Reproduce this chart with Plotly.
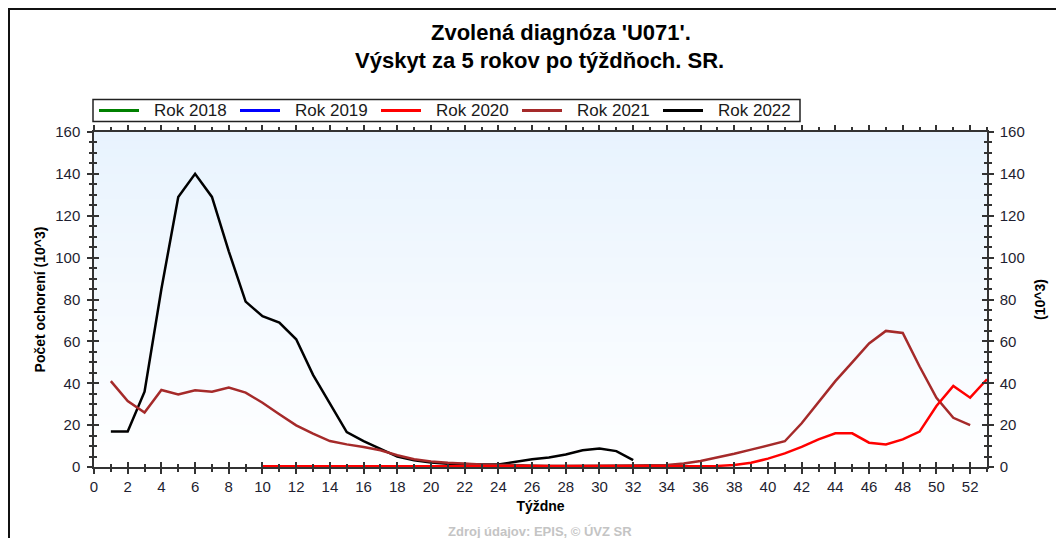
import plotly.graph_objects as go

# ---------------- data ----------------
weeks_2020 = list(range(10, 54))
rok_2020 = [0.3] * 27 + [0.5, 1.0, 2.0, 4.0, 6.5, 9.6, 13.2, 16.1, 16.1, 11.6, 10.8, 13.2, 16.9, 29.1, 38.7, 33.1, 41.9]

weeks_2021 = list(range(1, 53))
rok_2021 = [41, 31.5, 26, 36.8, 34.7, 36.6, 36, 37.9, 35.5, 30.7,
            25.2, 19.9, 15.9, 12.4, 10.8, 9.6, 8, 5.6, 3.7, 2.6,
            2, 1.5, 1.2, 1.0, 0.8, 0.7, 0.6, 0.6, 0.6, 0.6,
            0.6, 0.7, 0.8, 1.0, 1.7, 2.9, 4.5, 6.3, 8.3, 10.3,
            12.3, 20.9, 31, 41, 50, 59, 65, 64, 48, 33,
            23.5, 20]

weeks_2022 = list(range(1, 33))
rok_2022 = [17, 17, 36, 85, 129, 140, 129, 103, 79, 72,
            69, 61, 44, 30, 16.7, 12.4, 8.5, 5, 3.2, 2.1,
            1.5, 1.2, 1.2, 1.2, 2.4, 3.7, 4.5, 6, 8, 8.8,
            7.6, 3.3]

series_names = ["Rok 2018", "Rok 2019", "Rok 2020", "Rok 2021", "Rok 2022"]
series_colors = ["#008000", "#0000FF", "#FF0000", "#A52A2A", "#000000"]

x_ticks = list(range(0, 53, 2))
y_ticks = list(range(0, 161, 20))

FONT = "Arial, Liberation Sans, sans-serif"
TXT = "#1e1e30"
AX = "#333333"

# page body has an 8px margin: figure is placed at (8, 8)
OFF = 8
W, H = 1064 - OFF, 538 - OFF
PL, PR, PT, PB = 94, 987, 132, 467   # plot area in window pixels

fig = go.Figure()

# drawing order: 2022 below, 2021, 2020 on top
fig.add_trace(go.Scatter(x=weeks_2022, y=rok_2022, mode="lines", name=series_names[4],
                         line=dict(color=series_colors[4], width=2.5), showlegend=False))
fig.add_trace(go.Scatter(x=weeks_2021, y=rok_2021, mode="lines", name=series_names[3],
                         line=dict(color=series_colors[3], width=2.5), showlegend=False))
fig.add_trace(go.Scatter(x=weeks_2020, y=rok_2020, mode="lines", name=series_names[2],
                         line=dict(color=series_colors[2], width=2.5), showlegend=False))
fig.add_trace(go.Scatter(x=[None], y=[None], mode="lines", name=series_names[1],
                         line=dict(color=series_colors[1], width=2.5), showlegend=False))
fig.add_trace(go.Scatter(x=[None], y=[None], mode="lines", name=series_names[0],
                         line=dict(color=series_colors[0], width=2.5), showlegend=False))

# dummy traces for the overlay axes (inside ticks -> crossing ticks)
for xa, ya in [("x2", "y"), ("x", "y2"), ("x", "y3"), ("x", "y4")]:
    fig.add_trace(go.Scatter(x=[None], y=[None], xaxis=xa, yaxis=ya,
                             showlegend=False, hoverinfo="skip"))

tick_common = dict(tickcolor=AX, tickwidth=1.5)

fig.update_layout(
    width=W, height=H, autosize=False,
    margin=dict(l=PL - OFF, r=W - (PR - OFF), t=PT - OFF, b=H - (PB - OFF), pad=0),
    paper_bgcolor="white", plot_bgcolor="white",
    font=dict(family=FONT, color=TXT),
    showlegend=False,
    xaxis=dict(range=[0, 53], tickvals=x_ticks, ticks="outside", ticklen=5,
               minor=dict(dtick=1, tick0=0, ticks="outside", ticklen=3, **tick_common),
               showline=True, linecolor=AX, linewidth=1.5, mirror="ticks",
               showgrid=False, zeroline=False,
               tickfont=dict(size=15, color=TXT),
               title=dict(text="<b>Týždne</b>", font=dict(size=14, color="#000000"), standoff=7),
               **tick_common),
    xaxis2=dict(range=[0, 53], overlaying="x", anchor="y", tickvals=x_ticks,
                ticks="inside", ticklen=5, showticklabels=False,
                minor=dict(dtick=1, tick0=0, ticks="inside", ticklen=3, **tick_common),
                showline=False, showgrid=False, zeroline=False, **tick_common),
    yaxis=dict(range=[0, 160], tickvals=y_ticks, ticks="outside", ticklen=5,
               minor=dict(dtick=5, tick0=0, ticks="outside", ticklen=3, **tick_common),
               showline=True, linecolor=AX, linewidth=1.5,
               showgrid=False, zeroline=False,
               tickfont=dict(size=15, color=TXT), ticklabelstandoff=4,
               title=dict(text="<b>Počet ochorení (10^3)</b>", font=dict(size=14, color="#000000"), standoff=6),
               **tick_common),
    yaxis2=dict(range=[0, 160], overlaying="y", side="right", anchor="x",
                tickvals=y_ticks, ticks="outside", ticklen=5,
                minor=dict(dtick=5, tick0=0, ticks="outside", ticklen=3, **tick_common),
                showline=True, linecolor=AX, linewidth=1.5,
                showgrid=False, zeroline=False,
                tickfont=dict(size=15, color=TXT), ticklabelstandoff=3,
                title=dict(text="<b>(10^3)</b>", font=dict(size=14, color="#000000"), standoff=11),
                **tick_common),
    yaxis3=dict(range=[0, 160], overlaying="y", side="left", anchor="x",
                tickvals=y_ticks, ticks="inside", ticklen=5, showticklabels=False,
                minor=dict(dtick=5, tick0=0, ticks="inside", ticklen=3, **tick_common),
                showline=False, showgrid=False, zeroline=False, **tick_common),
    yaxis4=dict(range=[0, 160], overlaying="y", side="right", anchor="x",
                tickvals=y_ticks, ticks="inside", ticklen=5, showticklabels=False,
                minor=dict(dtick=5, tick0=0, ticks="inside", ticklen=3, **tick_common),
                showline=False, showgrid=False, zeroline=False, **tick_common),
)

px = lambda v: (v - PL) / (PR - PL)
py = lambda v: (PB - v) / (PB - PT)

# gradient background (light blue at top -> white at bottom)
N = 40
top = (232, 243, 254)
shapes = []
for i in range(N):
    t = (i + 0.5) / N
    r = int(round(255 + (top[0] - 255) * t))
    g = int(round(255 + (top[1] - 255) * t))
    b = int(round(255 + (top[2] - 255) * t))
    shapes.append(dict(type="rect", xref="paper", yref="paper", x0=0, x1=1,
                       y0=i / N, y1=(i + 1) / N + 0.002, fillcolor=f"rgb({r},{g},{b})",
                       line=dict(width=0), layer="below"))

# outer frame (left and top edges)
shapes.append(dict(type="line", xref="paper", yref="paper", x0=px(9), x1=px(9),
                   y0=py(545), y1=py(9), line=dict(color="#111111", width=2)))
shapes.append(dict(type="line", xref="paper", yref="paper", x0=px(8), x1=px(1070),
                   y0=py(9), y1=py(9), line=dict(color="#111111", width=2)))

# legend (box + line samples + labels)
shapes.append(dict(type="rect", xref="paper", yref="paper", x0=px(93), x1=px(800),
                   y0=py(121.5), y1=py(99.5), line=dict(color="#222222", width=1.5),
                   fillcolor="white"))
annotations = []
for i, (nm, col) in enumerate(zip(series_names, series_colors)):
    x0 = 99 + 141 * i
    shapes.append(dict(type="line", xref="paper", yref="paper", x0=px(x0), x1=px(x0 + 40),
                       y0=py(110.5), y1=py(110.5), line=dict(color=col, width=3)))
    annotations.append(dict(text=nm, xref="paper", yref="paper", x=px(x0 + 53), y=py(110.5),
                            xanchor="left", yanchor="middle", showarrow=False,
                            font=dict(size=17, color="#1a1a1a", family=FONT)))
fig.update_layout(shapes=shapes)

annotations += [
    dict(text="<b>Zvolená diagnóza 'U071'.</b>", xref="paper", yref="paper",
         x=px(561), y=py(33), xanchor="center", yanchor="middle", showarrow=False,
         font=dict(size=22, color="#000000", family=FONT)),
    dict(text="<b>Výskyt za 5 rokov po týždňoch. SR.</b>", xref="paper", yref="paper",
         x=px(539), y=py(60), xanchor="center", yanchor="middle", showarrow=False,
         font=dict(size=22, color="#000000", family=FONT)),
    dict(text="<b>Zdroj údajov: EPIS, © ÚVZ SR</b>", xref="paper", yref="paper",
         x=px(540), y=py(531), xanchor="center", yanchor="middle", showarrow=False,
         font=dict(size=13, color="#c4c4c4", family=FONT)),
]
fig.update_layout(annotations=annotations)

fig.write_html("out.html")
